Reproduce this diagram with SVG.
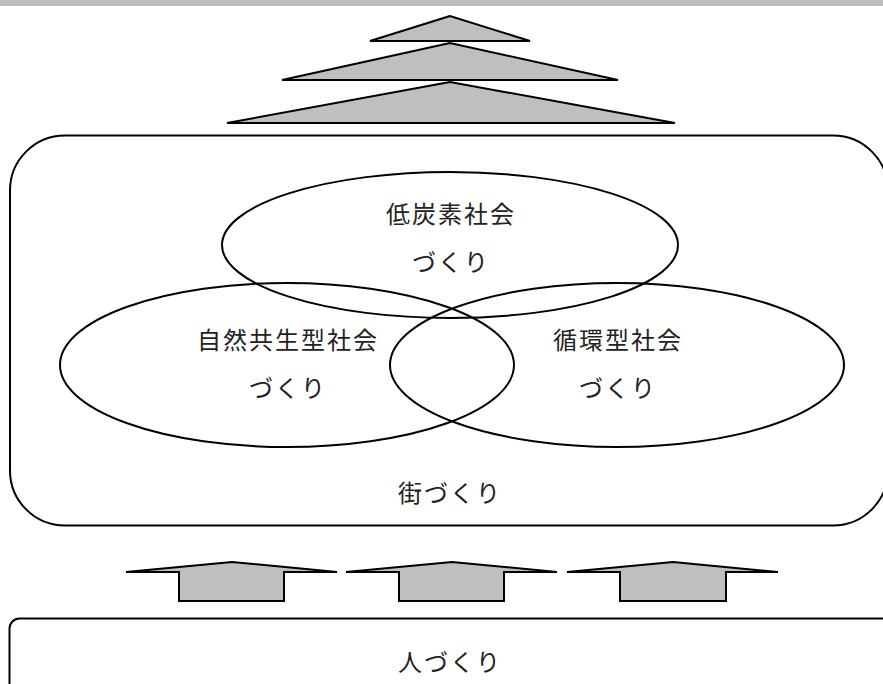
<svg xmlns="http://www.w3.org/2000/svg" width="883" height="684" viewBox="0 0 883 684">
<style>
.sh{fill:#bfbfbf;stroke:#000;stroke-width:2;stroke-linejoin:miter}
.ln{fill:none;stroke:#000;stroke-width:2}
.t{font-family:"Noto Sans CJK JP","Noto Sans CJK SC",sans-serif;font-size:24px;letter-spacing:2px;fill:#222;text-anchor:middle}
</style>
<rect x="0" y="0" width="883" height="6" fill="#bfbfbf"/>
<g id="pyramid">
<polygon class="sh" points="450,16 370,41 530,41"/>
<polygon class="sh" points="450,43 282,80 618,80"/>
<polygon class="sh" points="450,82 227,123 675,123"/>
</g>
<g id="town">
<rect class="ln" x="10" y="135.5" width="878" height="390" rx="55" ry="55"/>
<text class="t" x="450" y="502">街づくり</text>
</g>
<g id="lowcarbon">
<ellipse class="ln" cx="450" cy="245" rx="228" ry="73"/>
<text class="t" x="451" y="223">低炭素社会</text>
<text class="t" x="451" y="271">づくり</text>
</g>
<g id="nature">
<ellipse class="ln" cx="287" cy="365" rx="227" ry="82"/>
<text class="t" x="288" y="349">自然共生型社会</text>
<text class="t" x="288" y="397">づくり</text>
</g>
<g id="recycle">
<ellipse class="ln" cx="617" cy="365" rx="227" ry="82"/>
<text class="t" x="618" y="349">循環型社会</text>
<text class="t" x="618" y="397">づくり</text>
</g>
<g id="connectors">
<polygon class="sh" points="126,572 232,562 337,572 284,572 284,601 179,601 179,572"/>
<polygon class="sh" points="346,572 452,562 557,572 504,572 504,601 399,601 399,572"/>
<polygon class="sh" points="567,572 673,562 778,572 726,572 726,601 620,601 620,572"/>
</g>
<g id="people">
<rect class="ln" x="9.5" y="618.5" width="890" height="90" rx="10" ry="10"/>
<text class="t" x="450" y="671">人づくり</text>
</g>
</svg>
